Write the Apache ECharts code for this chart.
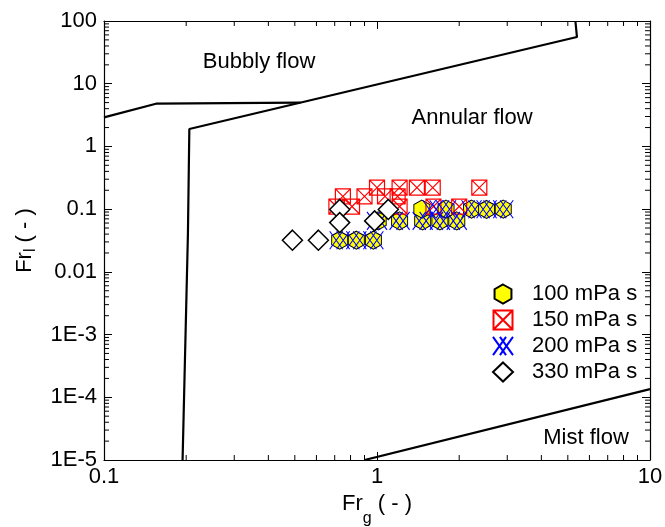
<!DOCTYPE html>
<html>
<head>
<meta charset="utf-8">
<script src="https://cdn.jsdelivr.net/npm/echarts@6/dist/echarts.min.js"></script>
<style>html,body{margin:0;padding:0;background:#fff}#c{width:665px;height:527px}</style>
</head>
<body>
<div id="c"></div>
<script>
// ---- axis ranges and tick labels ----
const xRange = [0.1, 10];
const yRange = [1e-5, 100];
const xTickLabels = ['0.1', '1', '10'];
const yTickLabels = ['1E-5', '1E-4', '1E-3', '0.01', '0.1', '1', '10', '100'];
const xMinorTicks = [0.2,0.3,0.4,0.5,0.6,0.7,0.8,0.9,2,3,4,5,6,7,8,9];
const yMinorTicks = [2e-5,3e-5,4e-5,5e-5,6e-5,7e-5,8e-5,9e-5,
  2e-4,3e-4,4e-4,5e-4,6e-4,7e-4,8e-4,9e-4,
  2e-3,3e-3,4e-3,5e-3,6e-3,7e-3,8e-3,9e-3,
  0.02,0.03,0.04,0.05,0.06,0.07,0.08,0.09,
  0.2,0.3,0.4,0.5,0.6,0.7,0.8,0.9,
  2,3,4,5,6,7,8,9,20,30,40,50,60,70,80,90];

// ---- series names ----
const seriesNames = ['100 mPa s', '150 mPa s', '200 mPa s', '330 mPa s'];

// ---- data [Fr_g, Fr_l] ----
const s100 = [[0.73,0.032],[0.84,0.032],[0.97,0.032],[1.01,0.065],[1.21,0.065],[1.47,0.065],[1.70,0.065],[1.96,0.065],[1.46,0.10],[1.79,0.10],[2.22,0.10],[2.52,0.099],[2.90,0.10]];
const s150 = [[0.71,0.11],[0.81,0.11],[1.21,0.11],[1.61,0.11],[2.0,0.11],[0.75,0.16],[0.90,0.16],[1.07,0.16],[1.19,0.16],[1.0,0.22],[1.21,0.22],[1.40,0.22],[1.60,0.22],[2.37,0.22]];
const s200 = [[0.73,0.032],[0.84,0.032],[0.97,0.032],[1.0,0.065],[1.21,0.065],[1.47,0.065],[1.70,0.065],[1.96,0.065],[1.60,0.10],[1.79,0.10],[2.22,0.10],[2.52,0.10],[2.90,0.10]];
const s330 = [[0.49,0.032],[0.61,0.032],[0.73,0.099],[0.73,0.061],[0.98,0.065],[1.10,0.099]];

// ---- flow-regime boundaries ----
const boundaryBubbly = [[0.1,2.91],[0.155,4.80],[0.524,4.98]];
const boundaryAnnular = [[0.194,1e-5],[0.203,0.0416],[0.2054,1.90],[5.40,55.6],[5.33,100]];
const boundaryMist = [[0.9,1e-5],[10,1.35e-4]];

// ---- region labels ----
const regionLabels = [
  {name:'Bubbly flow', value:[0.37,22.2]},
  {name:'Annular flow', value:[2.23,2.84]},
  {name:'Mist flow', value:[5.83,2.23e-5]}
];

const FONT = 'Liberation Sans, Arial, sans-serif';
const fs = 22;

function lbl(arr, base){ return function(v){ const i = Math.round(Math.log10(v) - Math.log10(base)); return arr[i] !== undefined ? arr[i] : ''; }; }

function minorX(params, api){
  const v = api.value(0);
  const b = api.coord([v, yRange[0]]);
  const t = api.coord([v, yRange[1]]);
  return {type:'group', children:[
    {type:'line', shape:{x1:b[0],y1:b[1],x2:b[0],y2:b[1]-5}, style:{stroke:'#000',lineWidth:1}},
    {type:'line', shape:{x1:t[0],y1:t[1],x2:t[0],y2:t[1]+5}, style:{stroke:'#000',lineWidth:1}}
  ]};
}
function minorY(params, api){
  const v = api.value(1);
  const l = api.coord([xRange[0], v]);
  const r = api.coord([xRange[1], v]);
  return {type:'group', children:[
    {type:'line', shape:{x1:l[0],y1:l[1],x2:l[0]+5,y2:l[1]}, style:{stroke:'#000',lineWidth:1}},
    {type:'line', shape:{x1:r[0],y1:r[1],x2:r[0]-5,y2:r[1]}, style:{stroke:'#000',lineWidth:1}}
  ]};
}

const axisCommon = {
  type:'log', logBase:10,
  axisLine:{show:true, lineStyle:{color:'#000', width:1.2}},
  axisTick:{show:true, inside:true, length:8, lineStyle:{color:'#000', width:1}},
  splitLine:{show:false},
  minorTick:{show:false}
};

const chart = echarts.init(document.getElementById('c'), null, {renderer:'canvas'});
chart.setOption({
  backgroundColor:'#fff',
  animation:false,
  textStyle:{fontFamily:FONT},
  grid:{left:104, right:15, top:21, bottom:67, containLabel:false, outerBoundsMode:'none'},
  xAxis:[
    Object.assign({}, axisCommon, {
      min:xRange[0], max:xRange[1], position:'bottom',
      axisLabel:{show:true, margin:6, color:'#000', fontSize:fs, fontFamily:FONT, formatter:lbl(xTickLabels, xRange[0])},
      name:'Fr{sub|g} ( - )', nameLocation:'middle', nameGap:26,
      nameTextStyle:{color:'#000', fontSize:fs, fontFamily:FONT, verticalAlign:'top',
        rich:{sub:{fontSize:16, fontFamily:FONT, color:'#000', verticalAlign:'bottom', padding:[0,0,-12,0]}}}
    }),
    Object.assign({}, axisCommon, {
      min:xRange[0], max:xRange[1], position:'top', axisLabel:{show:false}
    })
  ],
  yAxis:[
    Object.assign({}, axisCommon, {
      min:yRange[0], max:yRange[1], splitNumber:7, position:'left',
      axisLabel:{show:true, margin:7, color:'#000', fontSize:fs, fontFamily:FONT, formatter:lbl(yTickLabels, yRange[0])},
      name:'Fr{sub|l} ( - )', nameLocation:'middle', nameGap:68, nameRotate:90,
      nameTextStyle:{color:'#000', fontSize:fs, fontFamily:FONT,
        rich:{sub:{fontSize:16, fontFamily:FONT, color:'#000', padding:[0,0,-12,0]}}}
    }),
    Object.assign({}, axisCommon, {
      min:yRange[0], max:yRange[1], splitNumber:7, position:'right', axisLabel:{show:false}
    })
  ],
  legend:{
    orient:'vertical', left:487, top:278,
    itemWidth:20, itemHeight:19, itemGap:4,
    data:seriesNames,
    textStyle:{color:'#000', fontSize:fs, fontFamily:FONT, padding:[0,0,0,14]}
  },
  series:[
    {type:'custom', name:'minorX', renderItem:minorX, data:xMinorTicks.map(v=>[v, yRange[0]]), clip:false, silent:true, z:5},
    {type:'custom', name:'minorY', renderItem:minorY, data:yMinorTicks.map(v=>[xRange[0], v]), clip:false, silent:true, z:5},
    {type:'line', name:'b1', data:boundaryBubbly, symbol:'none', lineStyle:{color:'#000', width:2.2}, z:3},
    {type:'line', name:'b2', data:boundaryAnnular, symbol:'none', lineStyle:{color:'#000', width:2.2}, z:3},
    {type:'line', name:'b3', data:boundaryMist, symbol:'none', lineStyle:{color:'#000', width:2.2}, z:3},
    {type:'scatter', name:'regions', data:regionLabels, symbol:'circle', symbolSize:1, silent:true,
      itemStyle:{color:'rgba(0,0,0,0)', opacity:1},
      label:{show:true, position:'inside', formatter:'{b}', color:'#000', opacity:1, fontSize:fs, fontFamily:FONT}},
    {type:'scatter', name:seriesNames[0], data:s100,
      symbol:'path://M8,0 L16,4.5 L16,13.5 L8,18 L0,13.5 L0,4.5 Z', symbolSize:[16,18],
      itemStyle:{color:'#ffff00', borderColor:'#000', borderWidth:1, opacity:1}, z:10},
    {type:'scatter', name:seriesNames[1], data:s150,
      symbol:'path://M0,0 L14,0 L14,14 L0,14 Z M0,0 L14,14 M14,0 L0,14', symbolSize:[15,15],
      itemStyle:{color:'transparent', borderColor:'#ff0000', borderWidth:1.2, opacity:1}, z:11},
    {type:'scatter', name:seriesNames[2], data:s200,
      symbol:'path://M0,0 L15,21 M15,0 L0,21 M8,0 L23,21 M23,0 L8,21', symbolSize:[20,18],
      itemStyle:{color:'transparent', borderColor:'#0000ff', borderWidth:1, opacity:1}, z:12},
    {type:'scatter', name:seriesNames[3], data:s330,
      symbol:'diamond', symbolSize:[20,20],
      itemStyle:{color:'#ffffff', borderColor:'#000', borderWidth:1.5, opacity:1}, z:13}
  ]
});
</script>
</body>
</html>
